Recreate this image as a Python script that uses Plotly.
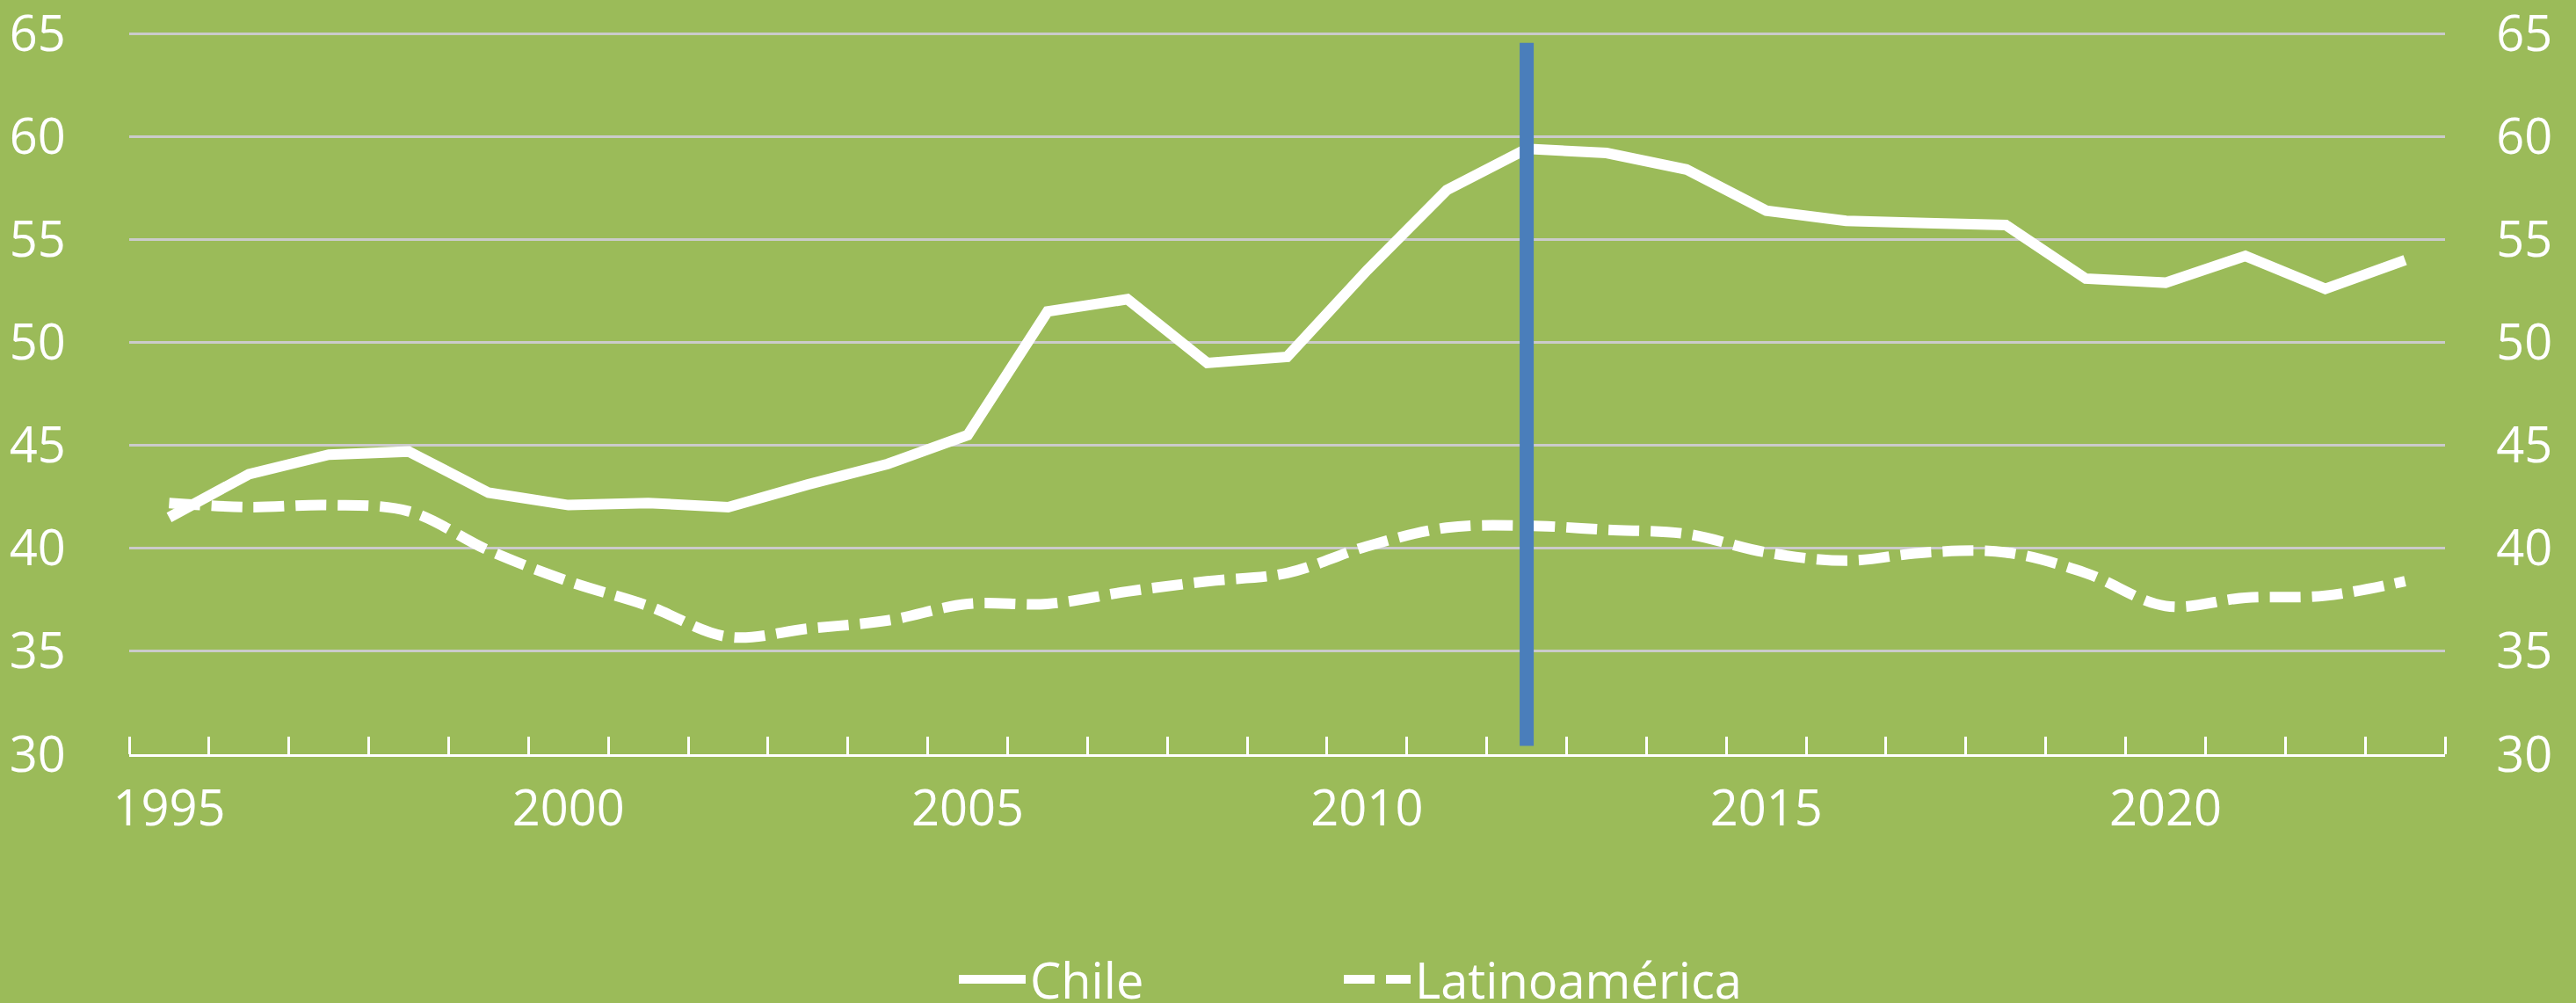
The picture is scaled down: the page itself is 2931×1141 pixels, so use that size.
import plotly.graph_objects as go

years = list(range(1995, 2024))
chile = [41.5, 43.6, 44.55, 44.7, 42.7, 42.1, 42.2, 42.0, 43.1, 44.1, 45.5, 51.5, 52.1,
         49.0, 49.3, 53.5, 57.4, 59.4, 59.2, 58.4, 56.4, 55.9, 55.8, 55.7, 53.1, 52.9,
         54.2, 52.6, 54.0]
latam = [42.2, 42.0, 42.1, 41.8, 39.9, 38.4, 37.2, 35.7, 36.1, 36.5, 37.3, 37.3, 37.9,
         38.4, 38.8, 40.1, 41.0, 41.1, 40.9, 40.7, 39.8, 39.4, 39.8, 39.8, 38.8, 37.2,
         37.6, 37.7, 38.4]
marker_year = [2012, 2012]
marker_range = [30.4, 64.55]
xtick_vals = [1995, 2000, 2005, 2010, 2015, 2020]
xtick_text = ["1995", "2000", "2005", "2010", "2015", "2020"]
ytick_vals = [30, 35, 40, 45, 50, 55, 60, 65]
ytick_text = ["30", "35", "40", "45", "50", "55", "60", "65"]

BG = "#9BBB59"
FONT = "Open Sans"
FS = 56
TRANSPARENT = "rgba(0,0,0,0)"

fig = go.Figure()
fig.add_trace(go.Scatter(x=years, y=chile, name="Chile", mode="lines",
                         line=dict(color="white", width=12), legend="legend"))
fig.add_trace(go.Scatter(x=years, y=latam, name="Latinoamérica", mode="lines",
                         line=dict(color="white", width=12, dash="35px,13px",
                                   shape="spline", smoothing=1), legend="legend2"))
fig.add_trace(go.Scatter(x=marker_year, y=marker_range, mode="lines", showlegend=False,
                         line=dict(color="#4A7EBB", width=16), yaxis="y2",
                         hoverinfo="skip"))

yrange = [29.999, 65.05]
legend_common = dict(orientation="h", xref="container", yref="container",
                     xanchor="left", y=27 / 1141, yanchor="middle",
                     itemwidth=76, bgcolor=TRANSPARENT,
                     font=dict(family=FONT, size=FS, color="white"))

fig.update_layout(
    width=2931, height=1141,
    paper_bgcolor=BG, plot_bgcolor=BG,
    margin=dict(l=147, r=149, t=37, b=283, autoexpand=False),
    font=dict(family=FONT, size=FS, color="white"),
    xaxis=dict(range=[1994.5, 2023.5], tickvals=xtick_vals, ticktext=xtick_text,
               ticks="", showgrid=False, zeroline=False, automargin=False,
               showline=True, linecolor="white", linewidth=3,
               ticklabelstandoff=11,
               minor=dict(tick0=1994.5, dtick=1, ticks="inside", ticklen=20,
                          tickwidth=3, tickcolor="white", showgrid=False)),
    yaxis=dict(range=yrange, tickvals=ytick_vals, ticktext=ytick_text,
               ticks="outside", ticklen=60, tickcolor=TRANSPARENT,
               ticklabeloverflow="allow", automargin=False,
               showgrid=True, gridcolor="#CBCBCB", gridwidth=2.5,
               zeroline=False, showline=False),
    yaxis2=dict(range=yrange, tickvals=ytick_vals, ticktext=ytick_text,
                overlaying="y", side="right",
                ticks="outside", ticklen=46, tickcolor=TRANSPARENT,
                ticklabeloverflow="allow", automargin=False,
                showgrid=False, zeroline=False, showline=False),
    legend=dict(x=1086 / 2931, **legend_common),
    legend2=dict(x=1524 / 2931, **legend_common),
    showlegend=True,
)

fig.write_html("out.html",
               config={"displayModeBar": False},
               post_script="document.body.style.margin='0';"
                           "document.body.style.background='#9BBB59';")
